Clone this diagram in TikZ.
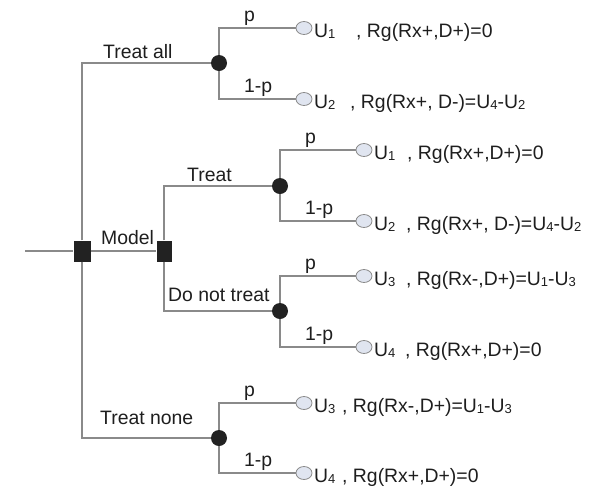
\documentclass[tikz,border=0pt]{standalone}
\usepackage{fontspec}
\setmainfont{Liberation Sans}
\usetikzlibrary{shapes.geometric}
\definecolor{linegrey}{HTML}{8A8A8A}
\definecolor{nodefill}{HTML}{222222}
\definecolor{leaffill}{HTML}{E0E5F0}
\definecolor{leafedge}{HTML}{8A8A8A}
\definecolor{textc}{HTML}{1E1E1E}
\newcommand{\usub}[1]{\raisebox{-1.5pt}{\fontsize{13}{13}\selectfont #1}}
\newcommand{\leaflab}[3]{\makebox[#1pt][l]{U\usub{#2}}#3}
\begin{document}
\begin{tikzpicture}[x=1pt,y=-1pt,
  branch/.style={draw=linegrey, line width=1.2pt},
  decision/.style={rectangle, fill=nodefill, minimum width=17pt, minimum height=21pt, inner sep=0pt},
  decision2/.style={decision, minimum width=15pt},
  chance/.style={circle, fill=nodefill, minimum size=16pt, inner sep=0pt},
  leaf/.style={ellipse, draw=leafedge, fill=leaffill, line width=0.8pt, minimum width=16pt, minimum height=13pt, inner sep=0pt},
  lab/.style={anchor=base west, inner sep=0pt, text=textc, font=\fontsize{19.4}{22}\selectfont},
]
\useasboundingbox (0,0) rectangle (600,491);
\fill[white] (0,0) rectangle (600,491);

% decision nodes
\coordinate (root) at (25,251);
\node[decision] (d1) at (82,251) {};
\node[decision2] (d2) at (164,251) {};

% chance nodes
\node[chance] (c1) at (219,63) {};
\node[chance] (c2) at (280,186) {};
\node[chance] (c3) at (280,311) {};
\node[chance] (c4) at (219,438) {};

% terminal nodes
\node[leaf] (t1) at (304,28) {};
\node[leaf] (t2) at (304,99) {};
\node[leaf] (t3) at (364,150) {};
\node[leaf] (t4) at (364,221) {};
\node[leaf] (t5) at (364,276) {};
\node[leaf] (t6) at (364,347) {};
\node[leaf] (t7) at (304,403) {};
\node[leaf] (t8) at (304,473) {};

% connectors
\draw[branch] (root) -- (d1);
\draw[branch] (d1) -- (d2);
\draw[branch] (d1) |- (c1);
\draw[branch] (d1) |- (c4);
\draw[branch] (d2) |- (c2);
\draw[branch] (d2) |- (c3);
\draw[branch] (c1) |- (t1);
\draw[branch] (c1) |- (t2);
\draw[branch] (c2) |- (t3);
\draw[branch] (c2) |- (t4);
\draw[branch] (c3) |- (t5);
\draw[branch] (c3) |- (t6);
\draw[branch] (c4) |- (t7);
\draw[branch] (c4) |- (t8);

% branch labels
\node[lab] (lta) at (103,58) {Treat all};
\node[lab] (lmo) at (101,244) {Model};
\node[lab] (ltr) at (187,181) {Treat};
\node[lab] (ldn) at (168,301) {Do not treat};
\node[lab] (ltn) at (100,424) {Treat none};

% probability labels
\node[lab] (p1) at (244,21) {p};
\node[lab] (q1) at (244,92) {1-p};
\node[lab] (p2) at (305,143) {p};
\node[lab] (q2) at (305,214) {1-p};
\node[lab] (p3) at (305,269) {p};
\node[lab] (q3) at (305,340) {1-p};
\node[lab] (p4) at (244,396) {p};
\node[lab] (q4) at (244,466) {1-p};

% outcome labels
\node[lab] (o1) at (314,37) {\leaflab{42}{1}{, Rg(Rx+,D+)=0}};
\node[lab] (o2) at (314,108) {\leaflab{36}{2}{, Rg(Rx+, D-)=U\usub{4}-U\usub{2}}};
\node[lab] (o3) at (374,159) {\leaflab{33}{1}{, Rg(Rx+,D+)=0}};
\node[lab] (o4) at (374,230) {\leaflab{32}{2}{, Rg(Rx+, D-)=U\usub{4}-U\usub{2}}};
\node[lab] (o5) at (374,285) {\leaflab{32}{3}{, Rg(Rx-,D+)=U\usub{1}-U\usub{3}}};
\node[lab] (o6) at (374,356) {\leaflab{31}{4}{, Rg(Rx+,D+)=0}};
\node[lab] (o7) at (314,412) {\leaflab{28}{3}{, Rg(Rx-,D+)=U\usub{1}-U\usub{3}}};
\node[lab] (o8) at (314,482) {\leaflab{28}{4}{, Rg(Rx+,D+)=0}};
\end{tikzpicture}
\end{document}
